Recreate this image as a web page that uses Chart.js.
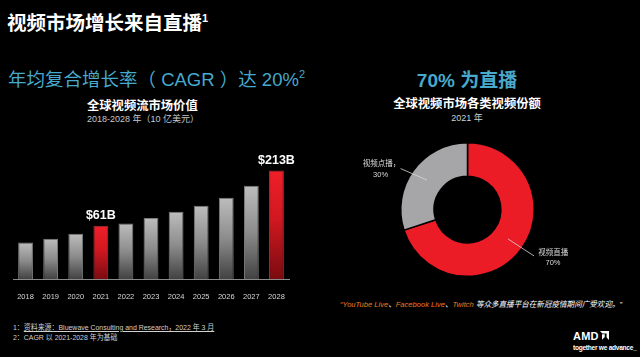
<!DOCTYPE html>
<html><head><meta charset="utf-8">
<script src="https://cdn.jsdelivr.net/npm/chart.js@4.4.1/dist/chart.umd.min.js"></script>
<style>
html,body{margin:0;padding:0;background:#000;width:640px;height:357px;overflow:hidden;}
body{position:relative;font-family:"Liberation Sans","Noto Sans CJK SC",sans-serif;color:#fff;}
.t{position:absolute;white-space:nowrap;line-height:1;}
.sq{transform-origin:0 0;}
#barWrap{position:absolute;left:0;top:140px;width:300px;height:160px;}
#pieWrap{position:absolute;left:340px;top:130px;width:260px;height:160px;}
</style></head><body>

<div class="t" style="left:7px;top:14px;font-size:19.5px;font-weight:bold;">视频市场增长来自直播<span style="font-size:11px;position:relative;top:-8px;">1</span></div>

<div class="t" style="left:8px;top:71px;font-size:18.5px;color:#47a9cc;">年均复合增长率（ CAGR ）达 20%<span style="font-size:11px;position:relative;top:-8px;">2</span></div>
<div class="t" style="left:87px;top:99.5px;font-size:12.3px;font-weight:bold;">全球视频流市场价值</div>
<div class="t" style="left:87px;top:114.5px;font-size:9px;color:#c8c8c8;">2018-2028 年（10 亿美元）</div>

<div class="t" style="left:367px;width:200px;text-align:center;top:70.5px;font-size:19px;font-weight:bold;color:#47a9cc;">70% 为直播</div>
<div class="t" style="left:367px;width:200px;text-align:center;top:98px;font-size:12.3px;font-weight:bold;">全球视频市场各类视频份额</div>
<div class="t" style="left:367px;width:200px;text-align:center;top:113.5px;font-size:9px;color:#d0d0d0;">2021 年</div>

<div id="barWrap"><canvas id="bars"></canvas></div>
<div id="pieWrap"><canvas id="pie"></canvas></div>

<div class="t sq" style="left:340px;top:300.5px;font-size:8px;font-style:italic;color:#fff;transform:scaleX(0.945);"><span style="color:#f07a20;">“YouTube Live</span>、<span style="color:#f07a20;">Facebook Live</span>、<span style="color:#f07a20;">Twitch</span> 等众多直播平台在新冠疫情期间广受欢迎。”</div>

<div class="t sq" style="left:12.5px;top:323.5px;font-size:7.5px;color:#d0d0d0;transform:scaleX(0.925);">1：<span style="text-decoration:underline;">资料来源：Bluewave Consulting and Research，2022 年 3 月</span></div>
<div class="t sq" style="left:12.5px;top:333.5px;font-size:7.5px;color:#d0d0d0;transform:scaleX(0.925);">2：CAGR 以 2021-2028 年为基础</div>

<div class="t" style="left:573px;top:330.5px;font-size:11px;font-weight:bold;letter-spacing:0.2px;">AMD</div>
<svg style="position:absolute;left:600px;top:331px;width:9px;height:9px;" viewBox="0 0 10 10"><path d="M0 0H10V10L7.3 7.3V2.7H2.7Z" fill="#fff"/><path d="M2.2 3.6H5.3V6.7H2.2Z" fill="#fff"/><path d="M5.3 6.7L2.2 9.8V6.7Z" fill="#fff"/></svg>
<div class="t sq" style="left:573px;top:343.5px;font-size:7.2px;font-weight:bold;letter-spacing:-0.3px;transform:scaleX(0.92);">together we advance_</div>

<script>
// ---- data ----
const years = ['2018','2019','2020','2021','2022','2023','2024','2025','2026','2027','2028'];
const marketValues = [15.5, 25.4, 39.1, 61, 67.6, 82.2, 99.4, 115.9, 137.8, 170.8, 213]; // $B
const highlightYears = ['2021','2028'];
const shareLabels = ['视频直播', '视频点播，'];
const shareValues = [70, 30];

const axisMin = -85, axisMax = 269;

function barGradient(c){
  const chart = c.chart, ys = chart.scales.y;
  const hi = highlightYears.includes(years[c.dataIndex]);
  if (!ys || !chart.chartArea) return hi ? '#d41c24' : '#8a8a8a';
  const top = ys.getPixelForValue(marketValues[c.dataIndex]);
  const bot = ys.getPixelForValue(axisMin);
  const g = chart.ctx.createLinearGradient(0, top, 0, bot);
  if (hi){ g.addColorStop(0,'#ef1f29'); g.addColorStop(0.45,'#d01820'); g.addColorStop(1,'#7a0b10'); }
  else { g.addColorStop(0,'#bdbdbd'); g.addColorStop(0.5,'#8c8c8c'); g.addColorStop(1,'#424242'); }
  return g;
}

const valueLabelPlugin = {
  id:'valueLabels',
  afterDatasetsDraw(chart){
    const ctx = chart.ctx, meta = chart.getDatasetMeta(0);
    ctx.save();
    ctx.fillStyle = '#fff';
    ctx.font = 'bold 12.5px "Liberation Sans", Arial, sans-serif';
    ctx.textAlign = 'center'; ctx.textBaseline = 'alphabetic';
    meta.data.forEach((bar, i) => {
      if (!highlightYears.includes(years[i])) return;
      ctx.fillText('$' + marketValues[i] + 'B', bar.x, bar.y - 6.5);
    });
    ctx.restore();
  }
};

new Chart(document.getElementById('bars'), {
  type:'bar',
  data:{ labels: years, datasets:[{
    data: marketValues,
    base: axisMin,
    backgroundColor: barGradient,
    borderColor: c => highlightYears.includes(years[c.dataIndex]) ? 'rgba(255,90,90,0.6)' : 'rgba(225,225,225,0.55)',
    borderWidth: {top:1, left:1, right:1, bottom:0},
    borderSkipped: 'bottom',
    barPercentage: 0.59,
    categoryPercentage: 1
  }]},
  options:{
    responsive:true, maintainAspectRatio:false, animation:false,
    events: [],
    layout:{ padding:{ left:13, right:11, top:10, bottom:0 } },
    plugins:{ legend:{display:false}, tooltip:{enabled:false} },
    scales:{
      y:{ display:false, min:axisMin, max:axisMax },
      x:{
        grid:{ display:false },
        border:{ display:true, color:'#8a8a8a', width:1 },
        ticks:{ color:'#d8d8d8', padding:5, font:{ size:7.5, family:'"Liberation Sans", Arial, sans-serif' } },
        afterFit(s){ s.height = 21; }
      }
    }
  },
  plugins:[valueLabelPlugin]
});

const donutLabelPlugin = {
  id:'donutLabels',
  afterDatasetsDraw(chart){
    const ctx = chart.ctx, meta = chart.getDatasetMeta(0);
    const lineOff = [[26, 17], [-26.4, -11.5]];
    const txtOff = [[[19.3,-3.7],[19,7.3]], [[-19.2,-5.2],[-20,6.5]]];
    ctx.save();
    meta.data.forEach((arc, i) => {
      const p = arc.getProps(['x','y','startAngle','endAngle','innerRadius','outerRadius'], true);
      const mid = (p.startAngle + p.endAngle)/2, rm = (p.innerRadius + p.outerRadius)/2;
      const x1 = p.x + Math.cos(mid)*rm, y1 = p.y + Math.sin(mid)*rm;
      const x2 = x1 + lineOff[i][0], y2 = y1 + lineOff[i][1];
      ctx.strokeStyle = '#d8d8d8'; ctx.lineWidth = 0.8;
      ctx.beginPath(); ctx.moveTo(x1,y1); ctx.lineTo(x2,y2); ctx.stroke();
      ctx.fillStyle = '#d8d8d8';
      ctx.font = '7.5px "Noto Sans CJK SC", "Liberation Sans", sans-serif';
      ctx.textAlign = 'center'; ctx.textBaseline = 'middle';
      ctx.fillText(shareLabels[i], x2 + txtOff[i][0][0], y2 + txtOff[i][0][1]);
      ctx.font = '7.5px "Liberation Sans", sans-serif';
      ctx.fillText(shareValues[i] + '%', x2 + txtOff[i][1][0], y2 + txtOff[i][1][1]);
    });
    ctx.restore();
  }
};

new Chart(document.getElementById('pie'), {
  type:'doughnut',
  data:{ labels: shareLabels, datasets:[{
    data: shareValues,
    backgroundColor:['#ec1c27','#a6a6a8'],
    borderColor:'#000', borderWidth:1.5,
    hoverOffset:0, offset:0
  }]},
  options:{
    responsive:true, maintainAspectRatio:false, animation:false,
    events: [],
    cutout:'50%',
    layout:{ padding:{ left:60, right:65, top:12, bottom:13 } },
    plugins:{ legend:{display:false}, tooltip:{enabled:false} }
  },
  plugins:[donutLabelPlugin]
});
</script>
</body></html>
